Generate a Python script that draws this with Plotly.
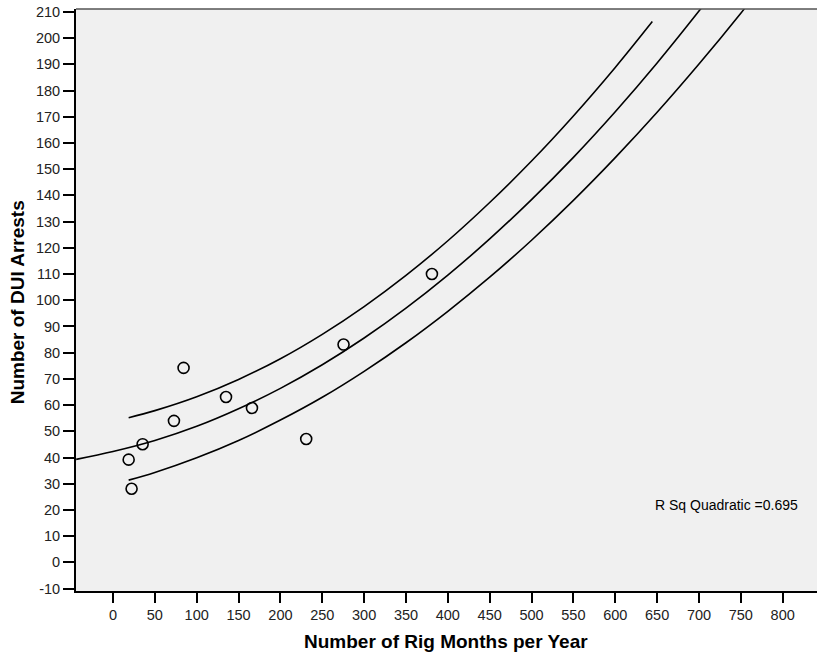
import plotly.graph_objects as go

# Observed data
rig_months = [18.7, 22.2, 35.4, 72.8, 84.3, 135.0, 166.0, 230.8, 275.4, 381.0]
dui_arrests = [39.2, 28.1, 45.1, 54.0, 74.2, 63.1, 58.9, 47.1, 83.1, 110.0]

# Quadratic fit line
fit_x = [-44, 0, 50, 100, 150, 200, 250, 300, 350, 400, 450, 500, 550, 600, 650, 700, 710]
fit_y = [39.3, 42.3, 46.5, 51.9, 58.6, 66.4, 75.4, 85.6, 97.0, 109.6, 123.4, 138.4, 154.5, 171.9, 190.5, 210.3, 214.4]

# Upper confidence line
upper_x = [18.7, 50, 100, 150, 200, 250, 300, 350, 400, 450, 500, 550, 600, 644.3]
upper_y = [55.2, 57.9, 63.2, 69.8, 77.7, 87.0, 97.6, 109.5, 122.7, 137.3, 153.1, 170.3, 188.8, 206.3]

# Lower confidence line
lower_x = [18.7, 50, 100, 150, 200, 250, 300, 350, 400, 450, 500, 550, 600, 650, 700, 750, 760]
lower_y = [31.4, 34.3, 39.9, 46.5, 54.3, 63.0, 72.9, 83.8, 95.8, 108.8, 122.9, 138.1, 154.4, 171.7, 190.1, 209.5, 213.6]

x_ticks = list(range(0, 801, 50))
y_ticks = list(range(-10, 211, 10))

line_style = dict(color="black", width=1.6, shape="spline")

fig = go.Figure()
for xs, ys in [(fit_x, fit_y), (upper_x, upper_y), (lower_x, lower_y)]:
    fig.add_trace(go.Scatter(x=xs, y=ys, mode="lines", line=line_style,
                             hoverinfo="skip", showlegend=False))

fig.add_trace(go.Scatter(
    x=rig_months, y=dui_arrests, mode="markers",
    marker=dict(symbol="circle-open", size=11, color="black", line=dict(width=1.6)),
    showlegend=False))

font_family = "Arial, Liberation Sans, sans-serif"

fig.update_layout(
    width=817, height=656,
    margin=dict(l=76, r=0, t=9, b=65, autoexpand=False),
    paper_bgcolor="white",
    plot_bgcolor="#F0F0F0",
    font=dict(family=font_family, size=14.5, color="#222222"),
    xaxis=dict(
        range=[-44.2, 841], automargin=False,
        tickmode="array", tickvals=x_ticks, ticktext=[str(v) for v in x_ticks],
        ticks="outside", ticklen=10, tickwidth=2, tickcolor="black",
        showline=True, linecolor="black", linewidth=2,
        showgrid=False, zeroline=False,
    ),
    yaxis=dict(
        range=[-10.9, 211.1], automargin=False,
        tickmode="array", tickvals=y_ticks, ticktext=[str(v) for v in y_ticks],
        ticks="outside", ticklen=11, tickwidth=2, tickcolor="black",
        showline=True, linecolor="black", linewidth=2,
        showgrid=False, zeroline=False,
    ),
    shapes=[dict(type="line", xref="paper", yref="paper", x0=0, x1=1, y0=1, y1=1,
                 line=dict(color="#555555", width=1.5))],
    annotations=[
        dict(text="R Sq Quadratic =0.695", xref="paper", yref="paper",
             x=0.977, y=0.148, xanchor="right", yanchor="middle",
             showarrow=False, font=dict(size=14, color="black")),
        dict(text="<b>Number of Rig Months per Year</b>", xref="paper", yref="paper",
             x=0.499, y=-0.087, xanchor="center", yanchor="middle",
             showarrow=False, font=dict(size=19, color="black")),
        dict(text="<b>Number of DUI Arrests</b>", xref="paper", yref="paper",
             x=-0.0796, y=0.496, xanchor="center", yanchor="middle", textangle=-90,
             showarrow=False, font=dict(size=19, color="black")),
    ],
)

fig.write_html("out.html",
               config={"displayModeBar": False},
               post_script="document.body.style.margin='0';document.body.style.overflow='hidden';")
